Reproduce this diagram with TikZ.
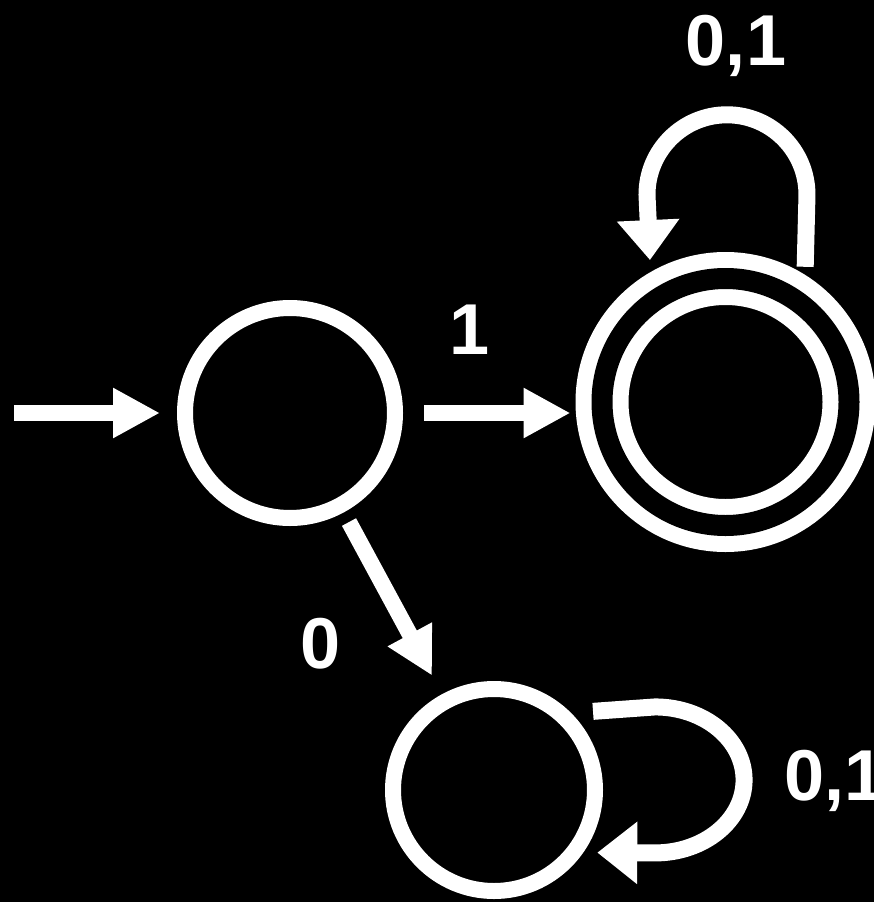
\documentclass[tikz,border=0pt]{standalone}
\usepackage{fontspec}
\setmainfont{Liberation Sans}
\usetikzlibrary{arrows.meta,calc}

\begin{document}
\begin{tikzpicture}[line join=round,
  every node/.style={inner sep=0pt,text=white,font=\fontsize{41}{41}\selectfont\bfseries},
  stnode/.style={circle,draw=white,line width=0.32cm,minimum size=4.2cm},
  acceptnode/.style={stnode,double=black,double distance=0.42cm,minimum size=4.94cm,outer sep=0.53cm},
  edgeline/.style={draw=white,line width=0.32cm,-{Triangle[length=0.94cm,width=0.94cm]}},
  loopline/.style={draw=white,line width=0.34cm,-{Triangle[length=0.8cm,width=1.2cm]}}]
  \useasboundingbox (0,0) rectangle (17.48,-18.04);
  \fill[black] (0,0) rectangle (17.48,-18.04);

  \node[stnode] (q0) at (5.80,-8.26) {};
  \node[acceptnode] (q1) at (14.51,-8.04) {};
  \node[stnode,minimum size=4.04cm] (q2) at (9.88,-15.80) {};
  \coordinate (init) at (0.28,-8.26);

  \draw[edgeline,shorten >=0.34cm] (init) -- (q0.west);
  \draw[edgeline,shorten <=0.42cm,shorten >=0.1cm] (q0.east) -- (q0.east -| q1.west);
  \draw[edgeline,shorten <=0.22cm,shorten >=0.42cm] (q0) -- (q2);

  % self loops
  \draw[loopline,shorten <=0.16cm,shorten >=0.24cm] (q1.58) -- ++(0.04,1.6)
    arc[start angle=0,end angle=180,radius=1.6] -- (q1.120);
  \draw[loopline,shorten <=0.44cm,shorten >=0.28cm] (q2.45) -- ++(1.68,0.12)
    arc[start angle=90,end angle=-90,x radius=1.78,y radius=1.46] -- (q2.-35);

  \node[anchor=base] (lbltop) at (14.72,-1.30) {0,1};
  \node[anchor=base] (lblone) at (9.40,-7.08) {1};
  \node[anchor=base] (lblzero) at (6.42,-13.36) {0};
  \node[anchor=base] (lblbot) at (16.69,-16.00) {0,1};
\end{tikzpicture}
\end{document}
